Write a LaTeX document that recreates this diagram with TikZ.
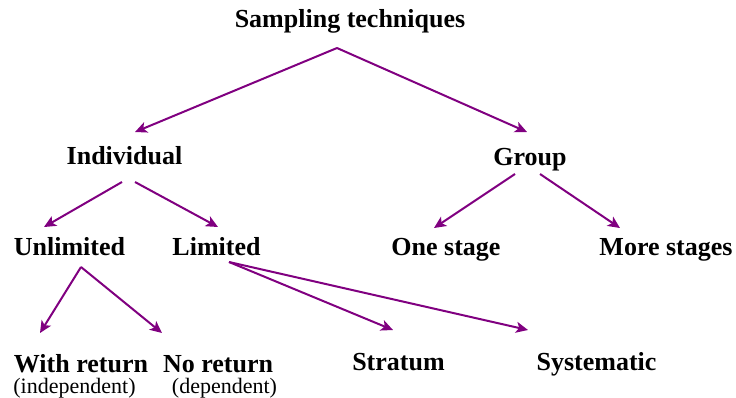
\documentclass[tikz,border=0pt]{standalone}
\usepackage{fontspec}
\setmainfont{Liberation Serif}
\usetikzlibrary{arrows.meta}
\definecolor{branch}{RGB}{128,0,128}
\begin{document}
\begin{tikzpicture}[x=1pt,y=-1pt,
  label/.style={font=\fontsize{26}{28}\selectfont\bfseries, inner sep=0pt, anchor=base},
  note/.style={font=\fontsize{22}{24}\selectfont, inner sep=0pt, anchor=base},
  link/.style={draw=branch, line width=2pt, -{Stealth[length=12pt,width=11pt,inset=3pt]}}]
\useasboundingbox (0,0) rectangle (736,397);

% node labels (placed on their baselines)
\node[label] (root) at (350,27) {Sampling techniques};
\node[label] (ind) at (124.5,164) {Individual};
\node[label] (grp) at (530,165) {Group};
\node[label] (unl) at (69.5,255) {Unlimited};
\node[label] (lim) at (216.5,255) {Limited};
\node[label] (one) at (446,255) {One stage};
\node[label] (more) at (666,255) {More stages};
\node[label] (with) at (81,372) {With return};
\node[label] (nor) at (218,372) {No return};
\node[note] (indep) at (74.5,393) {(independent)};
\node[note] (dep) at (224.5,393) {(dependent)};
\node[label] (str) at (398.5,370) {Stratum};
\node[label] (sys) at (596.5,370) {Systematic};

% branch points
\coordinate (rootS) at (337,48);
\coordinate (indL) at (122,182);
\coordinate (indR) at (135,182);
\coordinate (grpL) at (515,174);
\coordinate (grpR) at (540,174);
\coordinate (unlS) at (81,267);
\coordinate (limS) at (229,262);

% arrow ends
\coordinate (toInd) at (135,132);
\coordinate (toGrp) at (527,132);
\coordinate (toUnl) at (44,227);
\coordinate (toLim) at (218,227);
\coordinate (toOne) at (434,228);
\coordinate (toMore) at (620,228);
\coordinate (toWith) at (40,333);
\coordinate (toNor) at (162,333);
\coordinate (toStr) at (393,330);
\coordinate (toSys) at (528,330);

% connectors
\draw[link] (rootS) -- (toInd);
\draw[link] (rootS) -- (toGrp);
\draw[link] (indL) -- (toUnl);
\draw[link] (indR) -- (toLim);
\draw[link] (grpL) -- (toOne);
\draw[link] (grpR) -- (toMore);
\draw[link] (unlS) -- (toWith);
\draw[link] (unlS) -- (toNor);
\draw[link] (limS) -- (toStr);
\draw[link] (limS) -- (toSys);
\end{tikzpicture}
\end{document}
